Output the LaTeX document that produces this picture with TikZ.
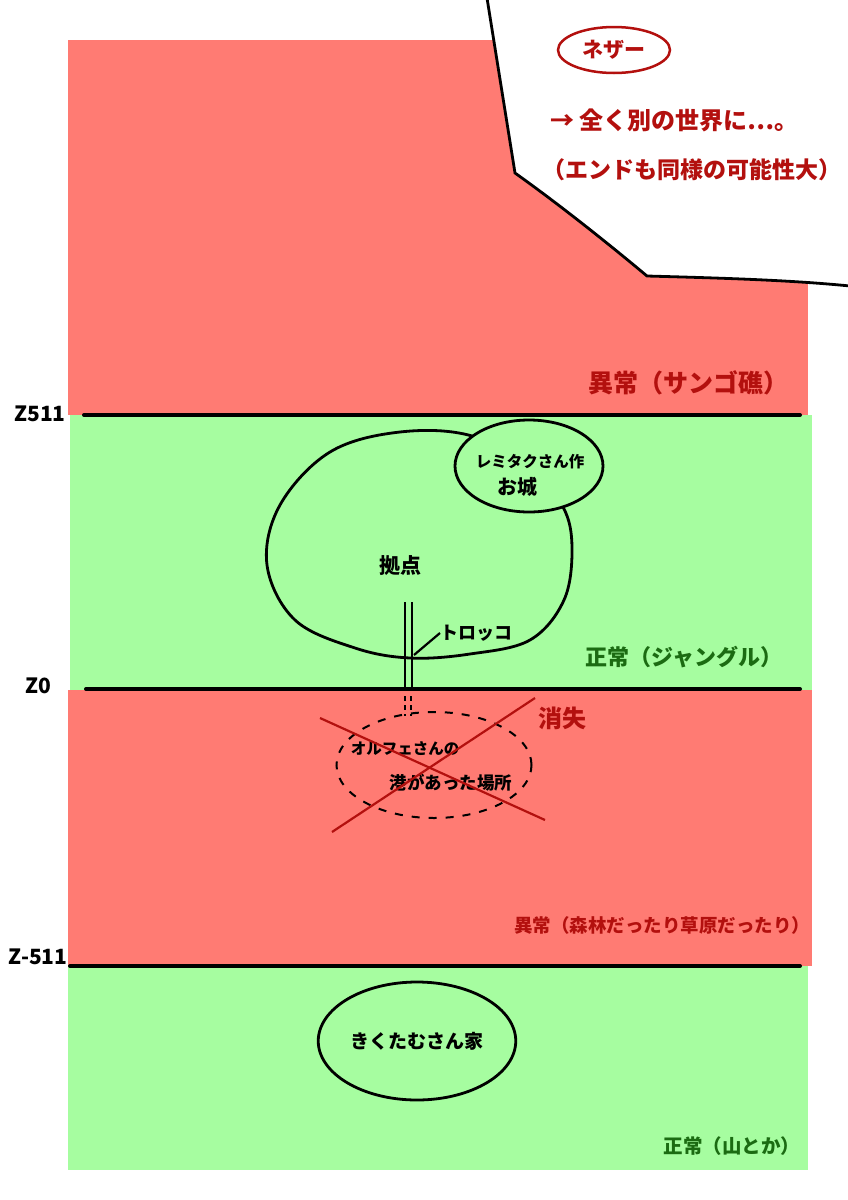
\documentclass[tikz,border=0pt]{standalone}
\usepackage{fontspec}
\setmainfont{Noto Sans CJK JP}
\usetikzlibrary{shapes.geometric}
\definecolor{zred}{HTML}{FF7B73}
\definecolor{zgreen}{HTML}{A6FDA0}
\definecolor{tred}{HTML}{B3100E}
\definecolor{tgreen}{HTML}{1B6B12}
\tikzset{
  yline/.style={line width=4pt, line cap=round},
  ink/.style={line width=2.8pt},
  redlbl/.style={text=tred, inner sep=0pt, anchor=center},
  grnlbl/.style={text=tgreen, inner sep=0pt, anchor=center},
  blklbl/.style={text=black, inner sep=0pt, anchor=center},
  zlbl/.style={text=black, inner sep=0pt, anchor=center, font=\fontsize{21}{21}\selectfont\bfseries}
}
\begin{document}
\begin{tikzpicture}[x=1pt,y=-1pt]
\useasboundingbox (0,0) rectangle (848,1200);
\fill[white] (0,0) rectangle (848,1200);
% bands
\fill[zred] (68,40) rectangle (808,415);
\fill[zgreen] (70,415) rectangle (812,690);
\fill[zred] (68,690) rectangle (812,966);
\fill[zgreen] (68,966) rectangle (808,1170);
% speech bubble
\fill[white] (487,-2) -- (515,173) .. controls (560,205) and (610,245) .. (647,276) .. controls (720,278) and (790,280) .. (850,286) -- (850,-2) -- cycle;
\draw[ink] (487,-2) -- (515,173) .. controls (560,205) and (610,245) .. (647,276) .. controls (720,278) and (790,280) .. (850,286);
% level lines
\coordinate (l1a) at (84,415); \coordinate (l1b) at (800,415);
\coordinate (l2a) at (86,689); \coordinate (l2b) at (800,689);
\coordinate (l3a) at (70,966); \coordinate (l3b) at (800,966);
\draw[yline] (l1a) -- (l1b);
\draw[yline] (l2a) -- (l2b);
\draw[yline] (l3a) -- (l3b);
\node[zlbl] (z511) at (40,414) {Z511};
\node[zlbl] (z0) at (38,686) {Z0};
\node[zlbl] (zm511) at (38,957) {Z-511};
% nether
\node[draw=tred, line width=2.5pt, ellipse, minimum width=112pt, minimum height=46pt, inner sep=0pt, text=tred, font=\fontsize{21}{21}\selectfont\bfseries] (nether) at (614,50) {ネザー};
\node[redlbl, font=\fontsize{24}{24}\selectfont\bfseries, anchor=west] (n1) at (550,120) {→ 全く別の世界に…。};
\node[redlbl, font=\fontsize{23}{23}\selectfont\bfseries, anchor=west] (n2) at (542,170) {（エンドも同様の可能性大）};
% band labels
\node[redlbl, font=\fontsize{25}{25}\selectfont\bfseries] (lab1) at (688,383) {異常（サンゴ礁）};
\node[grnlbl, font=\fontsize{22}{22}\selectfont\bfseries] (lab2) at (684,657) {正常（ジャングル）};
\node[redlbl, font=\fontsize{18.5}{19}\selectfont\bfseries] (lab3) at (662,925) {異常（森林だったり草原だったり）};
\node[grnlbl, font=\fontsize{19.5}{20}\selectfont\bfseries] (lab4) at (732,1146) {正常（山とか）};
% base blob
\draw[ink] plot[smooth cycle, tension=0.6] coordinates {(472,436) (400,432) (330,452) (280,505) (267,565) (295,620) (355,648) (410,658) (470,654) (530,640) (564,600) (572,548) (563,507) (530,470)};
\node[draw, ink, fill=zgreen, ellipse, minimum width=148pt, minimum height=92pt, inner sep=0pt] (castle) at (529,466) {};
\node[blklbl, font=\fontsize{15.5}{16}\selectfont\bfseries] (castle1) at (530,462) {レミタクさん作};
\node[blklbl, font=\fontsize{20}{20}\selectfont\bfseries] (castle2) at (517,487) {お城};
\node[blklbl, font=\fontsize{21}{21}\selectfont\bfseries] (base) at (400,566) {拠点};
% trolley
\coordinate (t1a) at (405,602); \coordinate (t1b) at (405,689);
\coordinate (t2a) at (412,602); \coordinate (t2b) at (412,689);
\draw[line width=2pt] (t1a) -- (t1b);
\draw[line width=2pt] (t2a) -- (t2b);
\coordinate (d1a) at (405,696); \coordinate (d1b) at (405,716);
\coordinate (d2a) at (411,696); \coordinate (d2b) at (411,716);
\draw[line width=1.8pt, dash pattern=on 5pt off 4pt] (d1a) -- (d1b);
\draw[line width=1.8pt, dash pattern=on 5pt off 4pt] (d2a) -- (d2b);
\node[blklbl, font=\fontsize{18}{18}\selectfont\bfseries, anchor=west] (toro) at (440,633) {トロッコ};
\coordinate (tleft) at (414,655);
\draw[line width=2.2pt] (tleft) -- (toro.west);
% lost port
\node[draw, line width=2pt, dash pattern=on 8pt off 9pt, ellipse, minimum width=195pt, minimum height=106pt] (port) at (434,765) {};
\node[blklbl, font=\fontsize{15.5}{16}\selectfont\bfseries] (p1) at (405,749) {オルフェさんの};
\node[blklbl, font=\fontsize{17.5}{18}\selectfont\bfseries] (p2) at (451,783) {港があった場所};
\coordinate (x1a) at (320,718); \coordinate (x1b) at (545,820);
\coordinate (x2a) at (332,832); \coordinate (x2b) at (535,698);
\draw[line width=2.2pt, tred] (x1a) -- (x1b);
\draw[line width=2.2pt, tred] (x2a) -- (x2b);
\node[redlbl, font=\fontsize{24}{24}\selectfont\bfseries] (lost) at (562,718) {消失};
% kikutamu house
\node[draw, ink, ellipse, minimum width=190pt, minimum height=118pt, font=\fontsize{19}{19}\selectfont\bfseries] (house) at (417,1041) {きくたむさん家};
\end{tikzpicture}
\end{document}
